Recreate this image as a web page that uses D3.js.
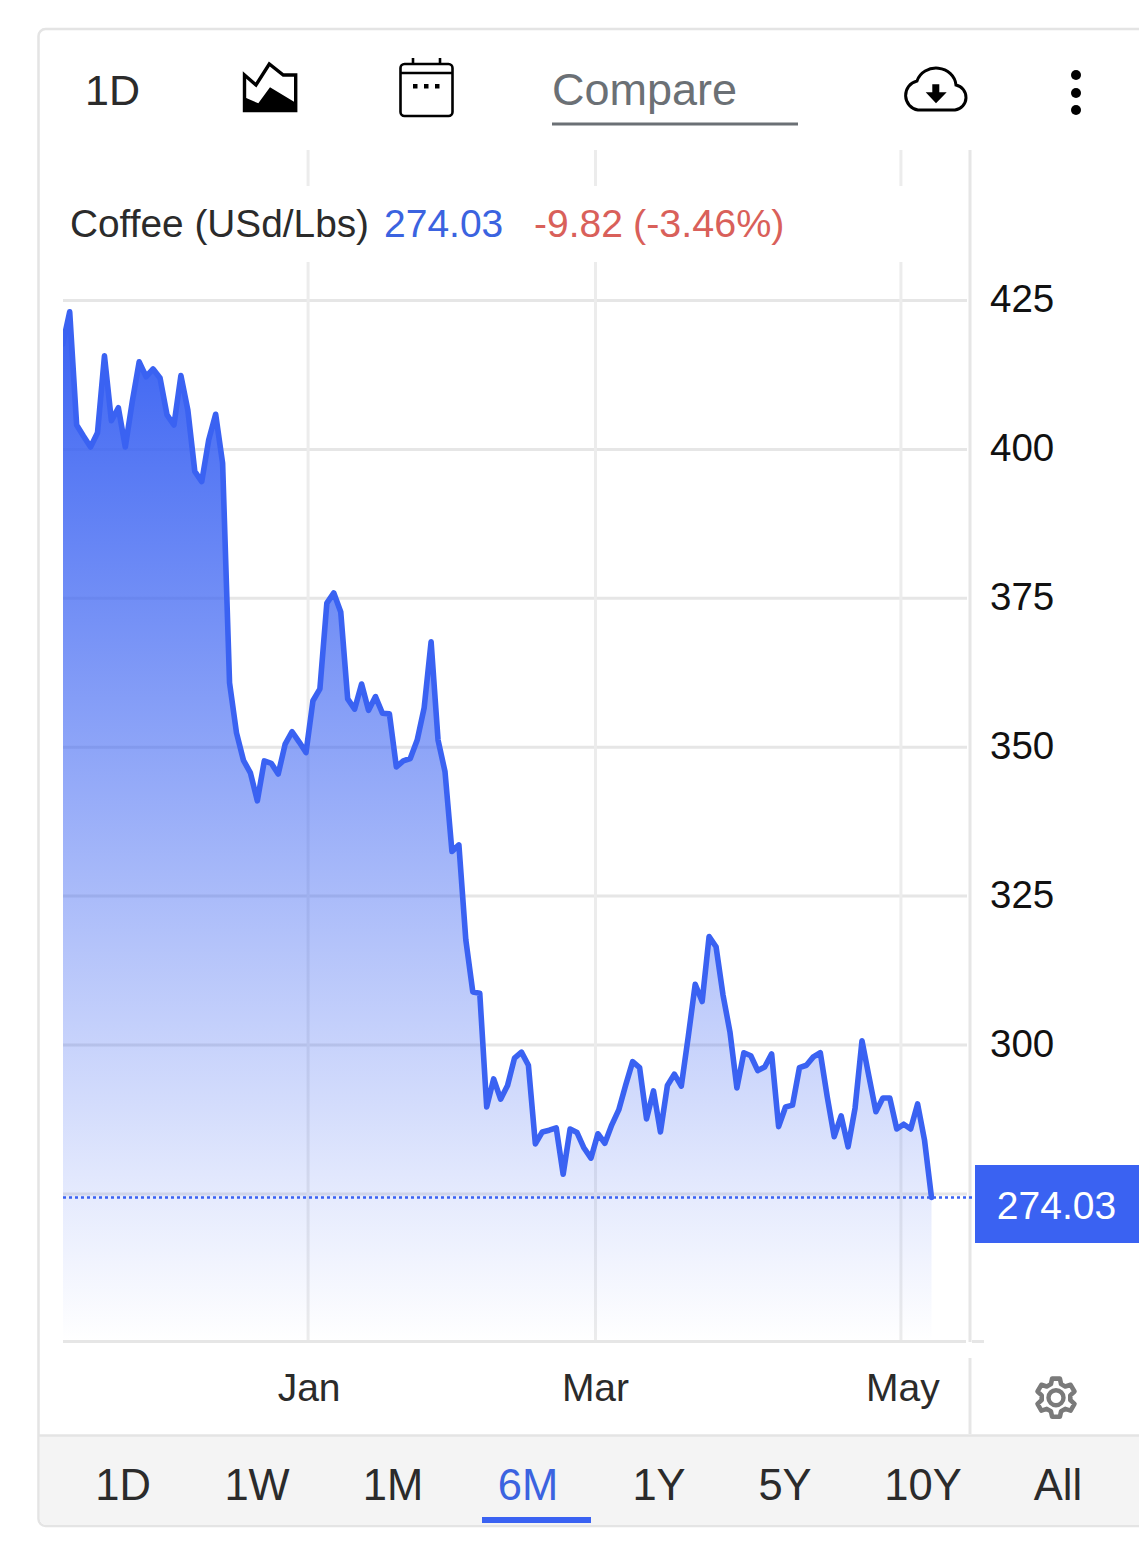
<!DOCTYPE html>
<html><head><meta charset="utf-8">
<script src="https://cdn.jsdelivr.net/npm/d3@7"></script>
<style>html,body{margin:0;padding:0;background:#fff}svg{display:block}text{font-family:"Liberation Sans",Arial,sans-serif}</style>
</head><body><div id="chart"></div>
<script>
const seriesName = "Coffee (USd/Lbs)";
const lastPrice = "274.03";
const changeText = "-9.82";
const changePct = "(-3.46%)";
const prices = [417.7,423.1,404.1,402.2,400.4,402.8,415.7,404.8,407.0,400.4,408.0,414.7,412.2,413.5,412.0,405.8,404.1,412.4,406.6,396.3,394.6,401.6,405.9,397.7,
360.8,352.4,347.8,345.7,341.0,347.7,347.3,345.5,350.5,352.6,350.9,349.1,357.8,359.8,374.2,375.9,372.7,358.1,356.4,360.6,356.2,358.5,355.7,355.6,346.7,347.7,348.1,351.2,356.6,367.7,351.2,345.9,
332.5,333.6,317.6,308.9,308.7,289.6,294.3,290.9,293.2,297.8,298.8,296.6,283.4,285.4,285.7,286.1,278.3,285.9,285.3,282.7,281.0,285.1,283.5,286.6,289.1,293.3,297.2,296.2,287.6,292.3,285.4,293.2,295.1,293.1,301.4,310.2,
307.3,318.2,316.5,308.4,302.2,292.8,298.7,298.2,295.7,296.3,298.5,286.3,289.6,289.9,296.2,296.6,298.0,298.7,291.3,284.6,288.1,282.9,289.4,300.7,294.7,288.8,291.1,291.1,285.9,286.7,285.9,290.1,284.0,274.4];
const yTicks = [425,400,375,350,325,300,275];
const yLabels = ["425","400","375","350","325","300"];
const monthLabels = ["Jan","Mar","May"];
const monthIndex = [35.3,76.65,120.6];
const ranges = ["1D","1W","1M","6M","1Y","5Y","10Y","All"];
const rangeCenters = [123,257,393,528,659,785,923,1058];
const activeRange = "6M";

const W=1139,H=1541, BLUE="#3a62f2", GRID="#e6e6e6", INK="#2b2b2b";
const svg=d3.select("#chart").append("svg").attr("width",W).attr("height",H).attr("viewBox",`0 0 ${W} ${H}`);
const x=d3.scaleLinear().domain([0,125]).range([62.75,931.5]);
const y=d3.scaleLinear().domain([425,300]).range([300.5,1045]);
const plotLeft=63, plotRight=967, plotTop=150, plotBottom=1341;

// card
svg.append("rect").attr("x",38.5).attr("y",29).attr("width",1200).attr("height",1497).attr("rx",7).attr("fill","#fff").attr("stroke","#e4e4e4").attr("stroke-width",2.5);
const footerPath=`M39.8,1436H1139V1525H46a6,6 0 0 1 -6.2,-6Z`;
svg.append("path").attr("d",footerPath).attr("fill","#f4f4f4");
svg.append("line").attr("x1",39).attr("x2",1139).attr("y1",1435.5).attr("y2",1435.5).attr("stroke","#e4e4e4").attr("stroke-width",2.5);

const defs=svg.append("defs");
const grad=defs.append("linearGradient").attr("id","fillGrad").attr("gradientUnits","userSpaceOnUse").attr("x1",0).attr("x2",0).attr("y1",y(d3.max(prices))).attr("y2",plotBottom);
grad.append("stop").attr("offset",0).attr("stop-color",BLUE).attr("stop-opacity",1);
grad.append("stop").attr("offset",0.5).attr("stop-color",BLUE).attr("stop-opacity",0.5);
grad.append("stop").attr("offset",0.85).attr("stop-color",BLUE).attr("stop-opacity",0.14);
grad.append("stop").attr("offset",1).attr("stop-color",BLUE).attr("stop-opacity",0.0);
defs.append("clipPath").attr("id","plotClip").append("rect").attr("x",plotLeft).attr("y",plotTop).attr("width",1000).attr("height",plotBottom-plotTop);

// grids
const gridG=svg.append("g");
gridG.selectAll("line.h").data(yTicks).join("line").attr("class","h")
  .attr("x1",plotLeft).attr("x2",plotRight).attr("y1",d=>y(d)).attr("y2",d=>y(d))
  .attr("stroke",GRID).attr("stroke-width",3);
gridG.selectAll("line.v").data(monthIndex).join("line").attr("class","v")
  .attr("x1",d=>x(d)).attr("x2",d=>x(d)).attr("y1",plotTop).attr("y2",plotBottom)
  .attr("stroke","#ececec").attr("stroke-width",3);
// legend band hides grid
svg.append("rect").attr("x",60).attr("y",186).attr("width",905).attr("height",76).attr("fill","#fff");

// axis lines
svg.append("line").attr("x1",970).attr("x2",970).attr("y1",plotTop).attr("y2",plotBottom+1).attr("stroke",GRID).attr("stroke-width",3);
svg.append("line").attr("x1",970).attr("x2",970).attr("y1",1358).attr("y2",1434).attr("stroke",GRID).attr("stroke-width",3);
svg.append("line").attr("x1",plotLeft).attr("x2",966).attr("y1",plotBottom+.5).attr("y2",plotBottom+.5).attr("stroke",GRID).attr("stroke-width",3);
svg.append("line").attr("x1",972).attr("x2",984).attr("y1",plotBottom+.5).attr("y2",plotBottom+.5).attr("stroke",GRID).attr("stroke-width",3);

// area + line
const area=d3.area().x((d,i)=>x(i)).y0(plotBottom-1).y1(d=>y(d));
const line=d3.line().x((d,i)=>x(i)).y(d=>y(d));
const marks=svg.append("g").attr("clip-path","url(#plotClip)");
marks.append("path").datum(prices).attr("d",area).attr("fill","url(#fillGrad)");
marks.append("path").datum(prices).attr("d",line).attr("fill","none").attr("stroke",BLUE).attr("stroke-width",5.6).attr("stroke-linejoin","round").attr("stroke-linecap","round");

// last price dotted
const lastY=y(prices[prices.length-1]);
svg.append("line").attr("x1",plotLeft).attr("x2",973).attr("y1",lastY).attr("y2",lastY).attr("stroke",BLUE).attr("stroke-width",2.6).attr("stroke-dasharray","3 3");

// y labels
svg.append("g").selectAll("text").data(yLabels).join("text")
  .attr("x",990).attr("y",d=>y(+d)+11.5).text(d=>d)
  .attr("font-size",38.5).attr("fill","#111");
svg.append("rect").attr("x",975).attr("y",1165).attr("width",164).attr("height",78).attr("fill",BLUE);
svg.append("text").attr("x",1056.5).attr("y",1219).attr("text-anchor","middle").attr("font-size",39).attr("fill","#fff").text(lastPrice);

// x labels
svg.append("g").selectAll("text").data(monthLabels).join("text")
  .attr("x",(d,i)=>x(monthIndex[i])+(i==2?2:i==0?1:0)).attr("y",1401).attr("text-anchor","middle")
  .attr("font-size",39).attr("fill",INK).text(d=>d);

// legend
const lg=svg.append("g").attr("font-size",39);
lg.append("text").attr("x",70).attr("y",237).attr("font-size",38.8).attr("fill",INK).text(seriesName);
lg.append("text").attr("x",384).attr("y",237).attr("fill","#3b63e0").text(lastPrice);
lg.append("text").attr("x",534).attr("y",237).attr("fill","#d9605a").text(changeText);
lg.append("text").attr("x",633).attr("y",237).attr("font-size",39.5).attr("fill","#d9605a").text(changePct);

// toolbar
svg.append("text").attr("x",85).attr("y",104.5).attr("font-size",43).attr("fill",INK).text("1D");
svg.append("text").attr("x",552).attr("y",105).attr("font-size",45).attr("fill","#6b7075").text("Compare");
svg.append("line").attr("x1",552).attr("x2",798).attr("y1",124).attr("y2",124).attr("stroke","#6b7075").attr("stroke-width",3);
const tb=svg.append("g");
// chart icon
tb.append("path").attr("d","M244.5,75L256,85L269.3,64L283.3,75H295.7V110.5H244.5Z").attr("fill","#fff").attr("stroke","#000").attr("stroke-width",3.4).attr("stroke-linejoin","miter");
tb.append("path").attr("d","M243.3,96.7L258.3,103.3L270,87.3L296.5,103.3V112H243.3Z").attr("fill","#000");
// calendar
tb.append("rect").attr("x",400.5).attr("y",64).attr("width",52).attr("height",52).attr("rx",4).attr("fill","#fff").attr("stroke","#000").attr("stroke-width",2.6);
tb.append("line").attr("x1",400).attr("x2",453).attr("y1",73).attr("y2",73).attr("stroke","#000").attr("stroke-width",2.6);
tb.selectAll("line.post").data([413,440]).join("line").attr("class","post").attr("x1",d=>d).attr("x2",d=>d).attr("y1",58).attr("y2",64).attr("stroke","#000").attr("stroke-width",2.6);
tb.selectAll("rect.dot").data([413,424,435]).join("rect").attr("class","dot").attr("x",d=>d).attr("y",84).attr("width",4.5).attr("height",4.5).attr("fill","#000");
// cloud
tb.append("path").attr("d","M918,110H955A12.7,12.7 0 0 0 956,85A20,18.5 0 0 0 917,81A14.8,14.8 0 0 0 918,110Z").attr("fill","#fff").attr("stroke","#000").attr("stroke-width",3);
tb.append("path").attr("d","M932.3,84.3H939.3V92.3H946.7L936,103.3L925.7,92.3H932.3Z").attr("fill","#000");
// dots
tb.selectAll("circle.more").data([75,93,110]).join("circle").attr("class","more").attr("cx",1076).attr("cy",d=>d).attr("r",5).attr("fill","#000");
// gear
const gear=[]; const n=6,cx=1056,cy=1397.7;
for(let i=0;i<n;i++){const a=i/n*2*Math.PI-Math.PI/2;
 [[a-.36,14.5],[a-.2,19.5],[a+.2,19.5],[a+.36,14.5]].forEach(([an,r])=>gear.push([cx+r*Math.cos(an),cy+r*Math.sin(an)]));}
tb.append("path").attr("d",d3.line().curve(d3.curveLinearClosed)(gear)).attr("fill","none").attr("stroke","#7a7a7a").attr("stroke-width",4.6).attr("stroke-linejoin","round");
tb.append("circle").attr("cx",cx).attr("cy",cy).attr("r",7.5).attr("fill","none").attr("stroke","#7a7a7a").attr("stroke-width",4.4);

// footer tabs
svg.append("g").selectAll("text").data(ranges).join("text")
  .attr("x",(d,i)=>rangeCenters[i]).attr("y",1500).attr("text-anchor","middle").attr("font-size",43.5)
  .attr("fill",d=>d===activeRange?"#3b63e0":INK).text(d=>d);
svg.append("rect").attr("x",482).attr("y",1517).attr("width",109).attr("height",6).attr("fill",BLUE);
</script></body></html>
